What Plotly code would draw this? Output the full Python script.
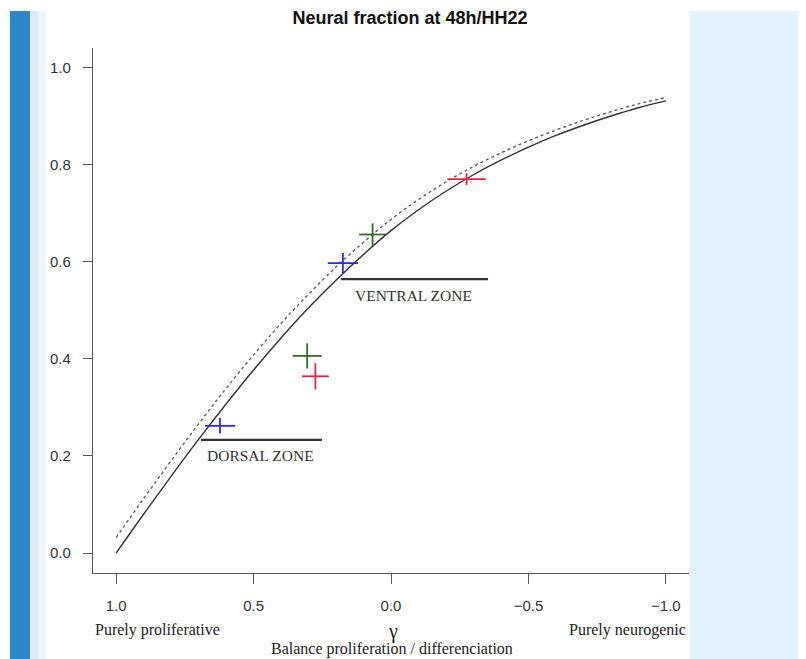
import plotly.graph_objects as go

# ---------------- data ----------------
gamma_grid = [1.0, 0.9, 0.8, 0.7, 0.6, 0.5, 0.4, 0.3, 0.2, 0.1, 0.0,
              -0.1, -0.2, -0.3, -0.4, -0.5, -0.6, -0.7, -0.8, -0.9, -1.0]
model_solid = [0.000, 0.080, 0.158, 0.234, 0.307, 0.377, 0.443, 0.505, 0.562, 0.615, 0.664,
               0.707, 0.745, 0.779, 0.809, 0.836, 0.860, 0.881, 0.900, 0.917, 0.931]
model_dashed = [0.032, 0.112, 0.190, 0.266, 0.339, 0.408, 0.473, 0.533, 0.589, 0.640, 0.687,
                0.728, 0.764, 0.796, 0.824, 0.849, 0.871, 0.891, 0.909, 0.925, 0.938]

# measured points (dorsal, ventral) with error half-widths
blue_gamma = [0.622, 0.175]
blue_frac = [0.262, 0.597]
blue_err_gamma = [0.055, 0.055]
blue_err_frac = [0.016, 0.021]

green_gamma = [0.305, 0.067]
green_frac = [0.406, 0.656]
green_err_gamma = [0.053, 0.049]
green_err_frac = [0.026, 0.023]

red_gamma = [0.275, -0.275]
red_frac = [0.364, 0.770]
red_err_gamma = [0.049, 0.070]
red_err_frac = [0.027, 0.012]

dorsal_range = [0.691, 0.251]
dorsal_level = 0.233
ventral_range = [0.182, -0.353]
ventral_level = 0.564

x_tickvals = [1.0, 0.5, 0.0, -0.5, -1.0]
x_ticktext = ["1.0", "0.5", "0.0", "\u22120.5", "\u22121.0"]
y_tickvals = [0.0, 0.2, 0.4, 0.6, 0.8, 1.0]
y_ticktext = ["0.0", "0.2", "0.4", "0.6", "0.8", "1.0"]

# ---------------- figure ----------------
OFF = 8  # page body margin of the html output
W, H = 806, 659
L, T = 93 - OFF, 48 - OFF
R = W - (689 - OFF)
B = H - (573 - OFF)
PW, PH = W - L - R, H - T - B


def px_x(p):  # page pixel -> paper x
    return (p - OFF - L) / PW


def px_y(p):  # page pixel -> paper y
    return (H - B - (p - OFF)) / PH


fig = go.Figure()

fig.add_trace(go.Scatter(x=gamma_grid, y=model_dashed, mode="lines",
                         line=dict(color="#555555", width=1.3, dash="3px,3px", shape="spline"),
                         hoverinfo="skip", showlegend=False))
fig.add_trace(go.Scatter(x=gamma_grid, y=model_solid, mode="lines",
                         line=dict(color="#333333", width=1.4, shape="spline"),
                         hoverinfo="skip", showlegend=False))

for gx, gy, ex, ey, col in [
    (blue_gamma, blue_frac, blue_err_gamma, blue_err_frac, "#2a2ae6"),
    (green_gamma, green_frac, green_err_gamma, green_err_frac, "#3b6a2e"),
    (red_gamma, red_frac, red_err_gamma, red_err_frac, "#e0263e"),
]:
    fig.add_trace(go.Scatter(
        x=gx, y=gy, mode="markers",
        marker=dict(size=1, color=col, opacity=0),
        error_x=dict(type="data", array=ex, color=col, thickness=1.8, width=0),
        error_y=dict(type="data", array=ey, color=col, thickness=1.8, width=0),
        showlegend=False))

fig.add_trace(go.Scatter(x=dorsal_range, y=[dorsal_level, dorsal_level], mode="lines",
                         line=dict(color="#333333", width=2.2), showlegend=False))
fig.add_trace(go.Scatter(x=ventral_range, y=[ventral_level, ventral_level], mode="lines",
                         line=dict(color="#333333", width=2.2), showlegend=False))

serif = "Liberation Serif, Times New Roman, serif"
sans = "Liberation Sans, Arial, Helvetica, sans-serif"

annotations = [
    dict(text="DORSAL ZONE", x=0.476, y=0.200, xref="x", yref="y", showarrow=False,
         font=dict(family=serif, size=15.5, color="#333333")),
    dict(text="VENTRAL ZONE", x=-0.082, y=0.530, xref="x", yref="y", showarrow=False,
         font=dict(family=serif, size=15.5, color="#333333")),
    dict(text="Purely proliferative", x=px_x(93), y=px_y(630), xref="paper", yref="paper",
         xanchor="left", yanchor="middle", showarrow=False,
         font=dict(family=serif, size=16, color="#222222")),
    dict(text="Purely neurogenic", x=px_x(688), y=px_y(630), xref="paper", yref="paper",
         xanchor="right", yanchor="middle", showarrow=False,
         font=dict(family=serif, size=16, color="#222222")),
    dict(text="\u03b3", x=px_x(393), y=px_y(631), xref="paper", yref="paper",
         xanchor="center", yanchor="middle", showarrow=False,
         font=dict(family=serif, size=20, color="#222222")),
    dict(text="Balance proliferation / differenciation", x=px_x(392), y=px_y(649),
         xref="paper", yref="paper", xanchor="center", yanchor="middle", showarrow=False,
         font=dict(family=serif, size=16, color="#222222")),
]

shapes = [
    # right light-blue panel
    dict(type="rect", xref="paper", yref="paper", x0=px_x(690), x1=px_x(830),
         y0=px_y(680), y1=px_y(11), fillcolor="#e3f2fb", line=dict(width=0), layer="below"),
    # left light strip
    dict(type="rect", xref="paper", yref="paper", x0=px_x(30), x1=px_x(38),
         y0=px_y(680), y1=px_y(11), fillcolor="#dcedf9", line=dict(width=0), layer="below"),
    dict(type="rect", xref="paper", yref="paper", x0=px_x(38), x1=px_x(46),
         y0=px_y(680), y1=px_y(11), fillcolor="#eef6fc", line=dict(width=0), layer="below"),
    # left dark blue bar
    dict(type="rect", xref="paper", yref="paper", x0=px_x(10), x1=px_x(30),
         y0=px_y(680), y1=px_y(11), fillcolor="#2f86c6", line=dict(width=0), layer="below"),
]

fig.update_layout(
    width=W, height=H,
    margin=dict(l=L, r=R, t=T, b=B, pad=0),
    paper_bgcolor="white", plot_bgcolor="rgba(0,0,0,0)",
    title=dict(text="<b>Neural fraction at 48h/HH22</b>", x=(410 - OFF) / W, xanchor="center",
               y=1 - (18 - OFF) / H, yanchor="middle", xref="container", yref="container",
               font=dict(family=sans, size=18, color="#111111")),
    annotations=annotations,
    shapes=shapes,
    showlegend=False,
)

fig.update_xaxes(range=[1.084, -1.084], tickvals=x_tickvals, ticktext=x_ticktext,
                 showgrid=False, zeroline=False, showline=True, linecolor="#555555",
                 linewidth=1.3, ticks="outside", ticklen=10, tickwidth=1.3, tickcolor="#555555",
                 ticklabelstandoff=9,
                 tickfont=dict(family=sans, size=15, color="#333333"))
fig.update_yaxes(range=[-0.041, 1.04], tickvals=y_tickvals, ticktext=y_ticktext,
                 showgrid=False, zeroline=False, showline=True, linecolor="#555555",
                 linewidth=1.3, ticks="outside", ticklen=9, tickwidth=1.3, tickcolor="#555555",
                 ticklabelstandoff=9,
                 tickfont=dict(family=sans, size=15, color="#333333"))

fig.write_html("out.html")
